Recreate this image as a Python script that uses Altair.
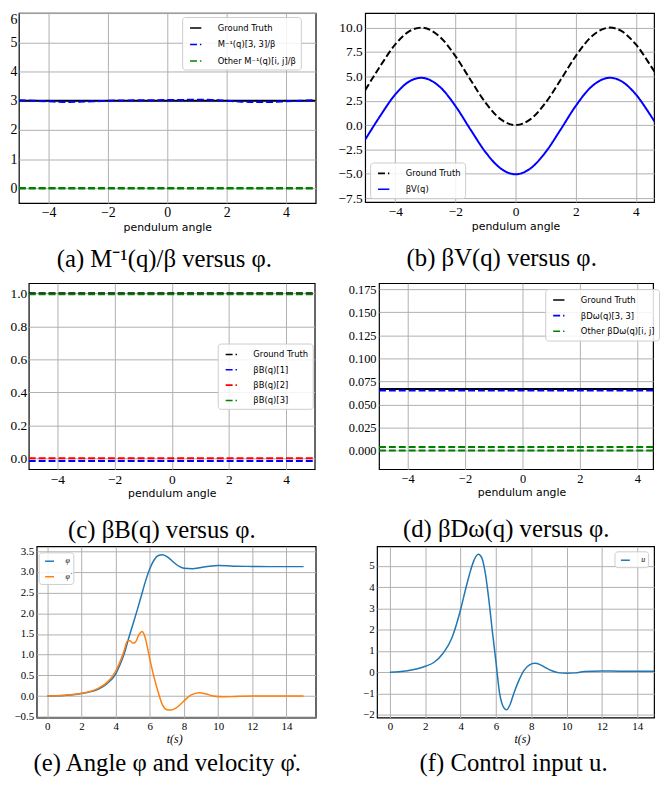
import altair as alt
import pandas as pd

SERIF = "Liberation Serif"
SANS = "DejaVu Sans"
GRID = "#b0b0b0"
DASH = [7, 3]
SOLID = [1, 0]

# ---------------- (a) M^-1(q)/beta versus angle ----------------
a_angle = [-5.0, -4.5, -4.0, -3.5, -3.0, -2.5, -2.0, -1.5, -1.0, -0.5, 0.0,
           0.5, 1.0, 1.5, 2.0, 2.5, 3.0, 3.5, 4.0, 4.5, 5.0]
a_m33 = [3.02, 3.0, 2.98, 2.96, 2.965, 2.98, 3.0, 3.01, 3.015, 3.02, 3.025,
         3.03, 3.035, 3.03, 3.0, 2.97, 2.955, 2.96, 2.98, 3.0, 3.02]
a_ends = [-5.0, 5.0]
a_gt = [3.0, 3.0]
a_other_1 = [0.0, 0.0]
a_other_2 = [0.015, 0.015]
a_labels = ["Ground Truth", "M⁻¹(q)[3, 3]/β", "Other M⁻¹(q)[i, j]/β"]
a_colors = ["#000000", "#0000ff", "#008000"]

# ---------------- (b) beta V(q) versus angle ----------------
b_angle = [-5.0, -4.5, -4.0, -3.5, -3.14, -2.5, -2.0, -1.5, -1.0, -0.5, 0.0,
           0.5, 1.0, 1.5, 2.0, 2.5, 3.14, 3.5, 4.0, 4.5, 5.0]
b_gt = [3.58, 6.05, 8.27, 9.68, 10.0, 9.01, 7.08, 4.65, 2.30, 0.61, 0.0,
        0.61, 2.30, 4.65, 7.08, 9.01, 10.0, 9.68, 8.27, 6.05, 3.58]
b_v = [-1.50, 0.94, 3.14, 4.54, 4.85, 3.87, 1.96, -0.45, -2.77, -4.44, -5.05,
       -4.44, -2.77, -0.45, 1.96, 3.87, 4.85, 4.54, 3.14, 0.94, -1.50]
b_labels = ["Ground Truth", "βV(q)"]
b_colors = ["#000000", "#0000ff"]

# ---------------- (c) beta B(q) versus angle ----------------
c_ends = [-5.0, 5.0]
c_gt = [1.0, 1.0]
c_b1 = [-0.016, -0.016]
c_b2 = [0.0, 0.0]
c_b3 = [0.994, 0.994]
c_labels = ["Ground Truth", "βB(q)[1]", "βB(q)[2]", "βB(q)[3]"]
c_colors = ["#000000", "#0000ff", "#ff0000", "#008000"]

# ---------------- (d) beta D_w(q) versus angle ----------------
d_ends = [-5.0, 5.0]
d_gt = [0.0667, 0.0667]
d_33 = [0.0652, 0.0652]
d_other_1 = [0.0036, 0.0036]
d_other_2 = [0.0, 0.0]
d_labels = ["Ground Truth", "βDω(q)[3, 3]", "Other βDω(q)[i, j]"]
d_colors = ["#000000", "#0000ff", "#008000"]

# ---------------- (e) angle and velocity ----------------
e_t = [0, 0.5, 1, 1.5, 2, 2.5, 3, 3.5, 4, 4.25, 4.5, 4.75, 5, 5.25, 5.5, 5.75,
       6, 6.25, 6.5, 6.75, 7, 7.25, 7.5, 7.75, 8, 8.5, 9, 9.5, 10, 10.5, 11,
       12, 13, 14, 15]
e_phi = [0.0, 0.005, 0.015, 0.03, 0.06, 0.1, 0.17, 0.3, 0.53, 0.75, 1.02,
         1.38, 1.72, 2.06, 2.42, 2.78, 3.08, 3.29, 3.4, 3.42, 3.37, 3.29, 3.2,
         3.13, 3.09, 3.08, 3.11, 3.14, 3.155, 3.15, 3.14, 3.135, 3.13, 3.13,
         3.13]
e_td = [0, 0.5, 1, 1.5, 2, 2.5, 3, 3.5, 4, 4.25, 4.5, 4.7, 4.85, 5.0, 5.15,
        5.35, 5.55, 5.7, 5.85, 6.0, 6.25, 6.5, 6.75, 7.0, 7.25, 7.5, 7.8, 8.1,
        8.4, 8.9, 9.3, 9.7, 10.3, 11, 12, 13, 14, 15]
e_phidot = [0.0, 0.006, 0.017, 0.035, 0.065, 0.11, 0.19, 0.33, 0.6, 0.82, 1.1,
            1.34, 1.34, 1.28, 1.3, 1.47, 1.56, 1.45, 1.2, 0.9, 0.45, 0.08,
            -0.22, -0.33, -0.34, -0.3, -0.2, -0.08, 0.02, 0.08, 0.05, 0.0,
            -0.02, -0.01, 0.0, 0.0, 0.0, 0.0]
e_labels = ["φ", "φ̇"]
e_colors = ["#1f77b4", "#ff7f0e"]

# ---------------- (f) control input ----------------
f_t = [0, 0.5, 1, 1.5, 2, 2.5, 3, 3.5, 4, 4.25, 4.5, 4.75, 5.0, 5.2, 5.4, 5.6,
       5.8, 6.0, 6.2, 6.4, 6.6, 6.8, 7.0, 7.3, 7.6, 7.9, 8.2, 8.5, 8.8, 9.2,
       9.6, 10.0, 10.5, 11, 12, 13, 14, 15]
f_u = [0.0, 0.02, 0.07, 0.15, 0.28, 0.47, 0.88, 1.6, 2.95, 3.8, 4.6, 5.25,
       5.55, 5.38, 4.65, 3.4, 1.9, 0.5, -0.95, -1.6, -1.77, -1.52, -1.02,
       -0.38, 0.1, 0.35, 0.42, 0.36, 0.22, 0.06, -0.03, -0.05, -0.03, 0.03,
       0.06, 0.05, 0.05, 0.05]
f_labels = ["u"]
f_colors = ["#1f77b4"]


def frame(entries):
    rows = []
    for k, (series, xs, ys) in enumerate(entries):
        for i, (xv, yv) in enumerate(zip(xs, ys)):
            rows.append({"x": xv, "y": yv, "series": series, "line": k, "i": i})
    return pd.DataFrame(rows)


def legend(lx, ly, row_pad, small=False):
    if small:
        return alt.Legend(orient="none", legendX=lx, legendY=ly,
                          symbolType="M-0.5,0H1.3", symbolSize=100,
                          symbolStrokeWidth=1.5, labelFont=SERIF,
                          labelFontStyle="italic", labelFontSize=8,
                          labelColor="black", labelOffset=12, padding=3,
                          rowPadding=row_pad, strokeColor="#cccccc",
                          cornerRadius=3, fillColor="rgba(255,255,255,0.85)")
    return alt.Legend(orient="none", legendX=lx, legendY=ly,
                      symbolType="M-0.5,0H1.4", symbolSize=144,
                      symbolStrokeWidth=1.6, labelFont=SANS, labelFontSize=8.5,
                      labelColor="black", labelOffset=18, padding=4,
                      rowPadding=row_pad, strokeColor="#cccccc",
                      cornerRadius=3, fillColor="rgba(255,255,255,0.85)",
                      labelLimit=300)


def panel(df, w, h, xdom, ydom, xvals, yvals, yfmt, lab_size, lab_pad,
          xtitle, xt_font, xt_size, xt_style, xt_x, labels, colors, dashes, leg,
          caption, cap_offset, cap_dx, sw, flush_y=False):
    x = alt.X("x:Q", scale=alt.Scale(domain=xdom, nice=False, zero=False),
              axis=alt.Axis(values=xvals, format="d", title=xtitle, grid=True,
                            gridColor=GRID, gridWidth=1, domain=False,
                            ticks=False, tickSize=0, labelFont=SERIF,
                            labelFontSize=lab_size, labelColor="black",
                            labelPadding=3, labelFlush=False,
                            labelOverlap=False, titleFont=xt_font,
                            titleFontSize=xt_size, titleFontStyle=xt_style,
                            titleFontWeight="normal", titleColor="black",
                            titlePadding=2, titleX=xt_x))
    y = alt.Y("y:Q", scale=alt.Scale(domain=ydom, nice=False, zero=False),
              axis=alt.Axis(values=yvals, format=yfmt, title=None, grid=True,
                            gridColor=GRID, gridWidth=1, domain=False,
                            ticks=False, tickSize=0, labelFont=SERIF,
                            labelFontSize=lab_size, labelColor="black",
                            labelPadding=lab_pad, labelFlush=flush_y,
                            labelOverlap=False))
    enc = {
        "x": x,
        "y": y,
        "color": alt.Color("series:N", scale=alt.Scale(domain=labels, range=colors),
                           legend=leg, title=None),
        "detail": alt.Detail("line:N"),
        "order": alt.Order("i:Q"),
    }
    if dashes is not None:
        enc["strokeDash"] = alt.StrokeDash(
            "series:N", scale=alt.Scale(domain=labels, range=dashes),
            legend=leg, title=None)
    return (
        alt.Chart(df, width=w, height=h,
                  title=alt.TitleParams(caption, orient="bottom", anchor="middle",
                                        font=SERIF, fontSize=25,
                                        fontWeight="normal", color="black",
                                        offset=cap_offset, dx=cap_dx))
        .mark_line(clip=True, strokeWidth=sw, interpolate="monotone")
        .encode(**enc)
        .properties(view=alt.ViewBackground(stroke="black", strokeWidth=1.2))
    )


def spacer(w, h):
    return alt.Chart(pd.DataFrame({"s": []})).mark_point(opacity=0).properties(
        width=w, height=h)


df_a = frame([(a_labels[0], a_ends, a_gt), (a_labels[1], a_angle, a_m33),
              (a_labels[2], a_ends, a_other_1), (a_labels[2], a_ends, a_other_2)])
df_b = frame([(b_labels[0], b_angle, b_gt), (b_labels[1], b_angle, b_v)])
df_c = frame([(c_labels[0], c_ends, c_gt), (c_labels[1], c_ends, c_b1),
              (c_labels[2], c_ends, c_b2), (c_labels[3], c_ends, c_b3)])
df_d = frame([(d_labels[0], d_ends, d_gt), (d_labels[1], d_ends, d_33),
              (d_labels[2], d_ends, d_other_1), (d_labels[2], d_ends, d_other_2)])
df_e = frame([(e_labels[0], e_t, e_phi), (e_labels[1], e_td, e_phidot)])
df_f = frame([(f_labels[0], f_t, f_u)])

ang_ticks = [-4, -2, 0, 2, 4]
t_ticks = [0, 2, 4, 6, 8, 10, 12, 14]

pa = panel(df_a, 300, 192, [-5, 5], [-0.5, 6], ang_ticks, [0, 1, 2, 3, 4, 5, 6],
           "d", 14, 2, "pendulum angle", SANS, 11, "normal", 150,
           a_labels, a_colors, [SOLID, DASH, DASH], legend(165, 4, 4.7),
           "(a) M⁻¹(q)/β versus φ.", 15, -3, 2, flush_y=True)
pb = panel(df_b, 292, 191, [-5, 4.605], [-7.9, 11.49], ang_ticks,
           [-7.5, -5, -2.5, 0, 2.5, 5, 7.5, 10], ".1f", 13.5, 3,
           "pendulum angle", SANS, 11, "normal", 152,
           b_labels, b_colors, [DASH, SOLID], legend(5, 151, 4),
           "(b) βV(q) versus φ.", 15, -8, 2)
pc = panel(df_c, 289, 188, [-5, 5], [-0.066, 1.061], ang_ticks,
           [0, 0.2, 0.4, 0.6, 0.8, 1.0], ".1f", 13.5, 2,
           "pendulum angle", SANS, 11, "normal", 144.5,
           c_labels, c_colors, [DASH, DASH, DASH, DASH], legend(191, 61, 3.5),
           "(c) βB(q) versus φ.", 20, -10, 2)
pd_ = panel(df_d, 277, 188, [-5, 4.55], [-0.0204, 0.1817], ang_ticks,
            [0, 0.025, 0.05, 0.075, 0.1, 0.125, 0.15, 0.175], ".3f", 12.5, 3,
            "pendulum angle", SANS, 11, "normal", 144,
            d_labels, d_colors, [SOLID, DASH, DASH], legend(168, 6, 3.8),
            "(d) βDω(q) versus φ.", 20, -10, 2)
pe = panel(df_e, 282, 173, [-0.62, 15.71], [-0.52, 3.62], t_ticks,
           [-0.5, 0, 0.5, 1.0, 1.5, 2.0, 2.5, 3.0, 3.5], ".1f", 11, 3,
           "t(s)", SERIF, 12, "italic", 139,
           e_labels, e_colors, None, legend(2, 6, 5.7, small=True),
           "(e) Angle φ and velocity φ̇.", 7, -9, 1.5)
pf = panel(df_f, 280, 173, [-0.73, 14.95], [-2.13, 5.92], t_ticks,
           [-2, -1, 0, 1, 2, 3, 4, 5], "d", 11, 3,
           "t(s)", SERIF, 12, "italic", 146.5,
           f_labels, f_colors, None, legend(240, 5, 2, small=True),
           "(f) Control input u.", 7, -2, 1.5)

row1 = alt.hconcat(spacer(1, 272), pa, spacer(20, 1), pb, spacing=0).resolve_scale(
    color="independent", strokeDash="independent")
row2 = alt.hconcat(spacer(1, 264), pc, spacer(32, 1), pd_, spacing=0).resolve_scale(
    color="independent", strokeDash="independent")
row3 = alt.hconcat(spacer(5, 10), pe, spacer(45, 1), pf, spacing=0).resolve_scale(
    color="independent", strokeDash="independent")

chart = (
    alt.vconcat(row1, row2, row3, spacing=0)
    .resolve_scale(color="independent", strokeDash="independent")
    .properties(padding=0)
    .configure_view(stroke="transparent", strokeWidth=0)
)

chart.save("out.html", embed_options={"renderer": "svg", "actions": False})
